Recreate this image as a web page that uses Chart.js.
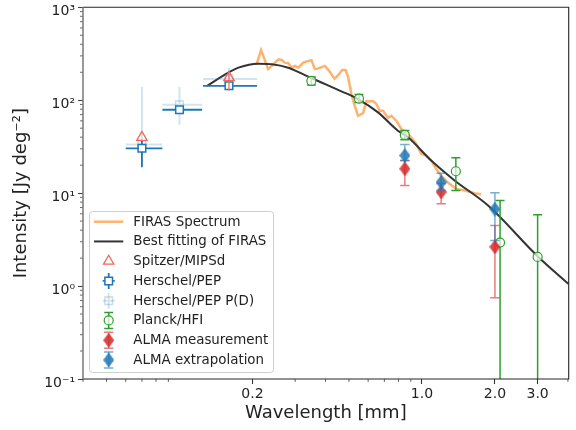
<!DOCTYPE html>
<html>
<head>
<meta charset="utf-8">
<script src="https://cdn.jsdelivr.net/npm/chart.js@4.4.0/dist/chart.umd.min.js"></script>
<style>
  body { margin: 0; background: #fff; }
  #wrap { width: 576px; height: 430px; }
</style>
</head>
<body>
<div id="wrap"><canvas id="chartCanvas" width="576" height="430"></canvas></div>
<script>
// wavelength in mm, intensity in Jy deg^-2
const firasWl = [0.208, 0.217, 0.224, 0.232, 0.240, 0.256, 0.264, 0.272, 0.281, 0.290,
                 0.299, 0.309, 0.324, 0.340, 0.350, 0.362, 0.373, 0.398, 0.417, 0.436,
                 0.451, 0.469, 0.484, 0.496, 0.512, 0.525, 0.545, 0.572, 0.590, 0.629,
                 0.649, 0.670, 0.691, 0.725, 0.748, 0.784, 0.822, 0.849, 0.890, 0.947,
                 0.993, 1.042, 1.092, 1.142, 1.201, 1.279, 1.384, 1.498, 1.648, 1.754];
const firasI  = [244, 347, 278, 216, 234, 276, 271, 254, 250, 224,
                 234, 224, 254, 265, 269, 216, 220, 234, 202, 170,
                 186, 212, 212, 178, 116, 91.5, 68, 72.5, 97.4, 97.4,
                 91, 77, 77, 64.8, 68, 60.2, 49.1, 45.1, 41.5, 34.1,
                 26.5, 25.4, 22.4, 18.4, 15.3, 13.0, 11.1, 10.7, 10.0, 9.7];

const fitWl = [0.130, 0.159, 0.175, 0.211, 0.240, 0.281, 0.329, 0.385, 0.451, 0.545,
               0.659, 0.796, 0.876, 1.092, 1.363, 1.869, 3.02, 4.03];
const fitI  = [143, 198, 224, 247, 244, 224, 186, 155, 129, 103,
               74, 47, 39.9, 22.4, 13.7, 7.4, 2.06, 1.05];

const mipsWl = [0.07, 0.16];
const mipsI  = [39.8, 175];
const mipsLo = [null, 128];
const mipsHi = [null, 193];

const pepWl = [0.07, 0.1, 0.16];
const pepBandLo = [0.060, 0.085, 0.125];
const pepBandHi = [0.085, 0.124, 0.209];
const pepI  = [30.4, 79, 143];
const pepLo = [19, 72, 128];
const pepHi = [36.7, 84, 149];

const pdI  = [33.3, 89.3, 169.5];
const pdLo = [19.8, 54.5, 132];
const pdHi = [139, 139, 224];

const planckWl = [0.35, 0.55, 0.85, 1.38, 2.1, 3.0];
const planckI  = [161.5, 104, 42.3, 17.2, 2.94, 2.06];
const planckLo = [146, 94.5, 37.6, 10.7, 0, 0];
const planckHi = [178, 115, 47.3, 24, 8.35, 5.87];

const almaWl = [0.85, 1.2, 2.0];
const almaMeasI  = [18.3, 10.3, 2.64];
const almaMeasLo = [12.1, 7.7, 0.75];
const almaMeasHi = [22.4, 12.7, 4.5];
const almaExtI  = [25.4, 13.1, 6.74];
const almaExtLo = [22.4, 10.7, 3.1];
const almaExtHi = [33.3, 16.4, 10.1];

const xTickVals = [0.2, 1, 2, 3];
const xTickLabels = ['0.2', '1.0', '2.0', '3.0'];
const xMinorVals = [0.04, 0.05, 0.06, 0.07, 0.08, 0.09, 0.3, 0.4, 0.5, 0.6, 0.7, 0.8, 0.9, 4];
const yTickVals = [0.1, 1, 10, 100, 1000];
const yTickLabels = ['10\u207B\u00B9', '10\u2070', '10\u00B9', '10\u00B2', '10\u00B3'];

const FONT = 'DejaVu Sans';
const TEXT = '#222';

const pts = (xs, ys) => xs.map((x, i) => ({x: x, y: ys[i]}));

// thin diamond marker, like matplotlib 'd'
function thinDiamond(color) {
    const c = document.createElement('canvas');
    c.width = 11;
    c.height = 15;
    const g = c.getContext('2d');
    g.fillStyle = color;
    g.beginPath();
    g.moveTo(5.5, 0);
    g.lineTo(11, 7.5);
    g.lineTo(5.5, 15);
    g.lineTo(0, 7.5);
    g.closePath();
    g.fill();
    return c;
}

const redDiamond = thinDiamond('rgba(214,39,40,0.85)');
const blueDiamond = thinDiamond('rgba(31,119,180,0.85)');

function drawErrors(chart, ds) {
    const e = ds.err;
    if (!e) return;
    const ctx = chart.ctx;
    const a = chart.chartArea;
    const xs = chart.scales.x, ys = chart.scales.y;
    ctx.save();
    ctx.beginPath();
    ctx.rect(a.left, a.top, a.right - a.left, a.bottom - a.top);
    ctx.clip();
    ctx.strokeStyle = e.color;
    ctx.lineWidth = e.width;
    ds.data.forEach((p, i) => {
        const px = xs.getPixelForValue(p.x);
        const py = ys.getPixelForValue(p.y);
        ctx.beginPath();
        if (e.xlo) {
            ctx.moveTo(xs.getPixelForValue(e.xlo[i]), py);
            ctx.lineTo(xs.getPixelForValue(e.xhi[i]), py);
        }
        if (e.lo && e.lo[i] != null) {
            const y1 = ys.getPixelForValue(e.lo[i]);
            const y2 = ys.getPixelForValue(e.hi[i]);
            ctx.moveTo(px, y1);
            ctx.lineTo(px, y2);
            if (e.cap) {
                if (e.lo[i] > ys.min) {
                    ctx.moveTo(px - e.cap, y1);
                    ctx.lineTo(px + e.cap, y1);
                }
                ctx.moveTo(px - e.cap, y2);
                ctx.lineTo(px + e.cap, y2);
            }
        }
        ctx.stroke();
    });
    ctx.restore();
}

function legendHandle(ctx, ds, cx, cy) {
    if (ds.showLine) {
        ctx.strokeStyle = ds.borderColor;
        ctx.lineWidth = ds.borderWidth;
        ctx.beginPath();
        ctx.moveTo(94, cy);
        ctx.lineTo(123.3, cy);
        ctx.stroke();
        return;
    }
    const e = ds.err;
    if (e && e.legend) {
        ctx.strokeStyle = e.color;
        ctx.lineWidth = e.width;
        ctx.beginPath();
        ctx.moveTo(cx, cy - 8);
        ctx.lineTo(cx, cy + 8);
        if (e.cap) {
            ctx.moveTo(cx - e.cap, cy - 8);
            ctx.lineTo(cx + e.cap, cy - 8);
            ctx.moveTo(cx - e.cap, cy + 8);
            ctx.lineTo(cx + e.cap, cy + 8);
        }
        if (e.xlo) {
            ctx.moveTo(cx - 6, cy);
            ctx.lineTo(cx + 6, cy);
        }
        ctx.stroke();
    }
    if (ds.pointStyle instanceof HTMLCanvasElement) {
        const img = ds.pointStyle;
        ctx.drawImage(img, cx - img.width / 2, cy - img.height / 2);
        return;
    }
    ctx.fillStyle = ds.pointBackgroundColor;
    ctx.strokeStyle = ds.pointBorderColor;
    ctx.lineWidth = ds.pointBorderWidth;
    Chart.helpers.drawPoint(ctx, {
        pointStyle: ds.pointStyle,
        radius: ds.pointRadius,
        rotation: 0,
        borderWidth: ds.pointBorderWidth
    }, cx, cy);
}

const extrasPlugin = {
    id: 'extras',
    beforeDatasetDraw(chart, args) {
        drawErrors(chart, chart.data.datasets[args.index]);
    },
    afterDraw(chart) {
        const ctx = chart.ctx;
        const a = chart.chartArea;
        const xs = chart.scales.x, ys = chart.scales.y;
        ctx.save();

        // minor ticks
        ctx.strokeStyle = '#444';
        ctx.lineWidth = 0.8;
        ctx.beginPath();
        xMinorVals.forEach(v => {
            const px = xs.getPixelForValue(v);
            ctx.moveTo(px, a.bottom);
            ctx.lineTo(px, a.bottom + 3);
        });
        [0.1, 1, 10, 100].forEach(d => {
            [2, 3, 4, 5, 6, 7, 8, 9].forEach(m => {
                const py = ys.getPixelForValue(d * m);
                ctx.moveTo(a.left, py);
                ctx.lineTo(a.left - 3, py);
            });
        });
        ctx.stroke();

        // frame
        ctx.strokeStyle = '#262626';
        ctx.lineWidth = 1.1;
        ctx.beginPath();
        ctx.moveTo(a.left, a.bottom);
        ctx.lineTo(a.right, a.bottom);
        ctx.lineTo(a.right, a.top);
        ctx.lineTo(a.left, a.top);
        ctx.stroke();
        ctx.strokeStyle = '#777';
        ctx.lineWidth = 1.5;
        ctx.beginPath();
        ctx.moveTo(a.left, a.top);
        ctx.lineTo(a.left, a.bottom);
        ctx.stroke();

        // legend box
        ctx.fillStyle = 'rgba(255,255,255,0.85)';
        ctx.strokeStyle = '#cfcfcf';
        ctx.lineWidth = 1;
        ctx.beginPath();
        ctx.roundRect(89.5, 211.5, 184, 161, 3);
        ctx.fill();
        ctx.stroke();
        ctx.font = '13.4px "' + FONT + '"';
        ctx.textBaseline = 'middle';
        chart.data.datasets.forEach((ds, i) => {
            const cy = 221.7 + i * 19.75;
            legendHandle(ctx, ds, 108.7, cy);
            ctx.fillStyle = TEXT;
            ctx.fillText(ds.label, 133.3, cy + 0.5);
        });
        ctx.restore();
    }
};

window.addEventListener('load', () => {
    const ctx = document.getElementById('chartCanvas').getContext('2d');
    new Chart(ctx, {
        type: 'scatter',
        data: {
            datasets: [
                {
                    label: 'FIRAS Spectrum',
                    data: pts(firasWl, firasI),
                    showLine: true,
                    borderColor: 'rgba(255,127,14,0.6)',
                    borderWidth: 2.5,
                    pointRadius: 0,
                    order: 9
                },
                {
                    label: 'Best fitting of FIRAS',
                    data: pts(fitWl, fitI),
                    showLine: true,
                    borderColor: '#333333',
                    borderWidth: 2,
                    pointRadius: 0,
                    cubicInterpolationMode: 'monotone',
                    order: 8
                },
                {
                    label: 'Spitzer/MIPSd',
                    data: pts(mipsWl, mipsI),
                    pointStyle: 'triangle',
                    pointRadius: 6,
                    pointBorderWidth: 1.3,
                    pointBorderColor: '#f2685a',
                    pointBackgroundColor: 'rgba(255,255,255,0)',
                    err: {lo: mipsLo, hi: mipsHi, color: 'rgba(242,104,90,0.8)', width: 1.5, cap: 0},
                    order: 5
                },
                {
                    label: 'Herschel/PEP',
                    data: pts(pepWl, pepI),
                    pointStyle: 'rect',
                    pointRadius: 5.4,
                    pointBorderWidth: 1.5,
                    pointBorderColor: '#1f77b4',
                    pointBackgroundColor: '#ffffff',
                    err: {lo: pepLo, hi: pepHi, xlo: pepBandLo, xhi: pepBandHi, color: '#1f77b4', width: 1.8, cap: 0, legend: true},
                    order: 6
                },
                {
                    label: 'Herschel/PEP P(D)',
                    data: pts(pepWl, pdI),
                    pointStyle: 'rect',
                    pointRadius: 5.4,
                    pointBorderWidth: 1.5,
                    pointBorderColor: 'rgba(31,119,180,0.25)',
                    pointBackgroundColor: 'rgba(255,255,255,0)',
                    err: {lo: pdLo, hi: pdHi, xlo: pepBandLo, xhi: pepBandHi, color: 'rgba(31,119,180,0.2)', width: 2, cap: 0, legend: true},
                    order: 7
                },
                {
                    label: 'Planck/HFI',
                    data: pts(planckWl, planckI),
                    pointStyle: 'circle',
                    pointRadius: 4.5,
                    pointBorderWidth: 1.2,
                    pointBorderColor: '#2ca02c',
                    pointBackgroundColor: 'rgba(255,255,255,0.7)',
                    err: {lo: planckLo, hi: planckHi, color: '#2ca02c', width: 1.5, cap: 4.5, legend: true},
                    order: 4
                },
                {
                    label: 'ALMA measurement',
                    data: pts(almaWl, almaMeasI),
                    pointStyle: redDiamond,
                    err: {lo: almaMeasLo, hi: almaMeasHi, color: 'rgba(214,39,40,0.6)', width: 1.5, cap: 4.7, legend: true},
                    order: 3
                },
                {
                    label: 'ALMA extrapolation',
                    data: pts(almaWl, almaExtI),
                    pointStyle: blueDiamond,
                    err: {lo: almaExtLo, hi: almaExtHi, color: 'rgba(31,119,180,0.6)', width: 1.5, cap: 4.7, legend: true},
                    order: 2
                }
            ]
        },
        options: {
            responsive: false,
            animation: false,
            events: [],
            layout: {padding: {top: 6, right: 4, left: 0, bottom: 0}},
            plugins: {
                legend: {display: false},
                tooltip: {enabled: false}
            },
            scales: {
                x: {
                    type: 'logarithmic',
                    min: 0.04,
                    max: 4.03,
                    afterBuildTicks: s => { s.ticks = xTickVals.map(v => ({value: v})); },
                    afterFit: s => { s.height = 51; s.paddingLeft = 0; s.paddingRight = 0; },
                    ticks: {
                        autoSkip: false,
                        maxRotation: 0,
                        padding: 2,
                        color: TEXT,
                        font: {family: FONT, size: 14},
                        callback: (v, i) => xTickLabels[i]
                    },
                    grid: {drawOnChartArea: false, tickLength: 5, tickColor: '#333', tickWidth: 1.1},
                    border: {display: false},
                    title: {
                        display: true,
                        text: 'Wavelength [mm]',
                        color: TEXT,
                        font: {family: FONT, size: 18},
                        padding: {top: 0, bottom: 6}
                    }
                },
                y: {
                    type: 'logarithmic',
                    min: 0.1,
                    max: 1000,
                    afterBuildTicks: s => { s.ticks = yTickVals.map(v => ({value: v})); },
                    afterFit: s => { s.width = 83; s.paddingTop = 0; s.paddingBottom = 0; },
                    ticks: {
                        autoSkip: false,
                        padding: 3,
                        labelOffset: 4,
                        color: TEXT,
                        font: {family: FONT, size: 14},
                        callback: (v, i) => yTickLabels[i]
                    },
                    grid: {drawOnChartArea: false, tickLength: 5, tickColor: '#444', tickWidth: 1.1},
                    border: {display: false},
                    title: {
                        display: true,
                        text: 'Intensity [Jy deg\u207B\u00B2]',
                        color: TEXT,
                        font: {family: FONT, size: 18},
                        padding: {top: 11, bottom: 0}
                    }
                }
            }
        },
        plugins: [extrasPlugin]
    });
});
</script>
</body>
</html>
